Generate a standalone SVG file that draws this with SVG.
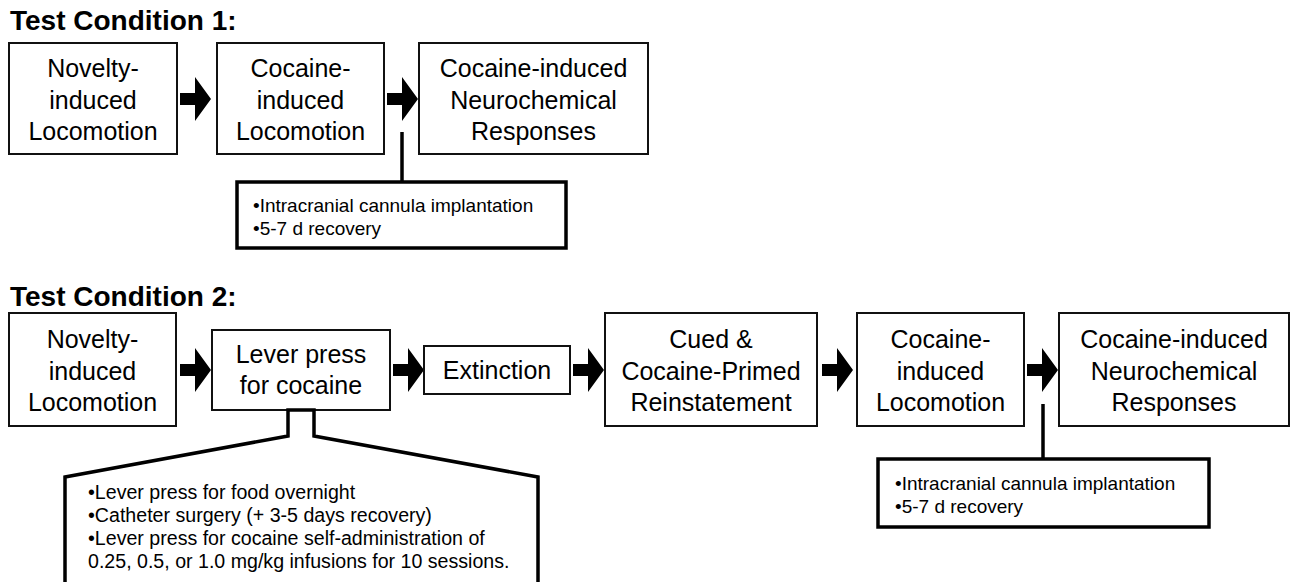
<svg xmlns="http://www.w3.org/2000/svg" width="1295" height="582" viewBox="0 0 1295 582">
<style>
.box{fill:#fff;stroke:#111;stroke-width:2}
.call{fill:#fff;stroke:#000;stroke-width:3.5}
.ln{fill:none;stroke:#000;stroke-width:3.5}
.t{font-family:"Liberation Sans",Arial,Helvetica,sans-serif;font-size:25px;fill:#000;text-anchor:middle}
.s{font-family:"Liberation Sans",Arial,Helvetica,sans-serif;font-size:19px;fill:#000}
.s2{font-family:"Liberation Sans",Arial,Helvetica,sans-serif;font-size:19.6px;fill:#000}
.h{font-family:"Liberation Sans",Arial,Helvetica,sans-serif;font-size:28px;font-weight:bold;fill:#000}
.ar{fill:#000}
</style>
<defs>
<polygon id="arrow" points="0,-6 15,-6 15,-22 31,0 15,22 15,6 0,6"/>
</defs>
<text class="h" x="10" y="30">Test Condition 1:</text>
<text class="h" x="10" y="306">Test Condition 2:</text>

<g id="connectors">
<use href="#arrow" class="ar" x="180" y="99"/>
<use href="#arrow" class="ar" x="387" y="99"/>
<line class="ln" x1="402" y1="132" x2="402" y2="183"/>
<use href="#arrow" class="ar" x="180" y="370"/>
<use href="#arrow" class="ar" x="393" y="370"/>
<use href="#arrow" class="ar" x="573" y="370"/>
<use href="#arrow" class="ar" x="822" y="370"/>
<use href="#arrow" class="ar" x="1027" y="370"/>
<line class="ln" x1="1043" y1="404" x2="1043" y2="460"/>
</g>

<g id="n1a"><rect class="box" x="9" y="43" width="168" height="111"/>
<text class="t" x="93" y="77">Novelty-</text><text class="t" x="93" y="108.5">induced</text><text class="t" x="93" y="140">Locomotion</text></g>
<g id="n1b"><rect class="box" x="217" y="43" width="167" height="111"/>
<text class="t" x="300.5" y="77">Cocaine-</text><text class="t" x="300.5" y="108.5">induced</text><text class="t" x="300.5" y="140">Locomotion</text></g>
<g id="n1c"><rect class="box" x="419" y="43" width="229" height="111"/>
<text class="t" x="533.5" y="77">Cocaine-induced</text><text class="t" x="533.5" y="108.5">Neurochemical</text><text class="t" x="533.5" y="140">Responses</text></g>
<g id="c1"><rect class="call" x="237" y="182" width="329" height="66"/>
<text class="s" x="253" y="212">•Intracranial cannula implantation</text><text class="s" x="253" y="235">•5-7 d recovery</text></g>

<g id="n2a"><rect class="box" x="9" y="313" width="167" height="113"/>
<text class="t" x="92.5" y="348">Novelty-</text><text class="t" x="92.5" y="379.5">induced</text><text class="t" x="92.5" y="411">Locomotion</text></g>
<g id="n2b"><rect class="box" x="212" y="330" width="178" height="80"/>
<text class="t" x="301" y="363">Lever press</text><text class="t" x="301" y="394">for cocaine</text></g>
<g id="n2c"><rect class="box" x="424" y="346" width="146" height="48"/>
<text class="t" x="497" y="379">Extinction</text></g>
<g id="n2d"><rect class="box" x="605" y="313" width="212" height="113"/>
<text class="t" x="711" y="348">Cued &amp;</text><text class="t" x="711" y="379.5">Cocaine-Primed</text><text class="t" x="711" y="411">Reinstatement</text></g>
<g id="n2e"><rect class="box" x="857" y="313" width="167" height="113"/>
<text class="t" x="940.5" y="348">Cocaine-</text><text class="t" x="940.5" y="379.5">induced</text><text class="t" x="940.5" y="411">Locomotion</text></g>
<g id="n2f"><rect class="box" x="1059" y="313" width="230" height="113"/>
<text class="t" x="1174" y="348">Cocaine-induced</text><text class="t" x="1174" y="379.5">Neurochemical</text><text class="t" x="1174" y="411">Responses</text></g>
<g id="c2"><polygon class="call" points="288,410 288,436 65,477 65,600 538,600 538,477 314,436 314,410"/>
<text class="s2" x="88" y="499">•Lever press for food overnight</text>
<text class="s2" x="88" y="522">•Catheter surgery (+ 3-5 days recovery)</text>
<text class="s2" x="88" y="545">•Lever press for cocaine self-administration of</text>
<text class="s2" x="88" y="568">0.25, 0.5, or 1.0 mg/kg infusions for 10 sessions.</text></g>
<g id="c3"><rect class="call" x="878" y="459" width="331" height="68"/>
<text class="s" x="895" y="490">•Intracranial cannula implantation</text><text class="s" x="895" y="513">•5-7 d recovery</text></g>
</svg>
